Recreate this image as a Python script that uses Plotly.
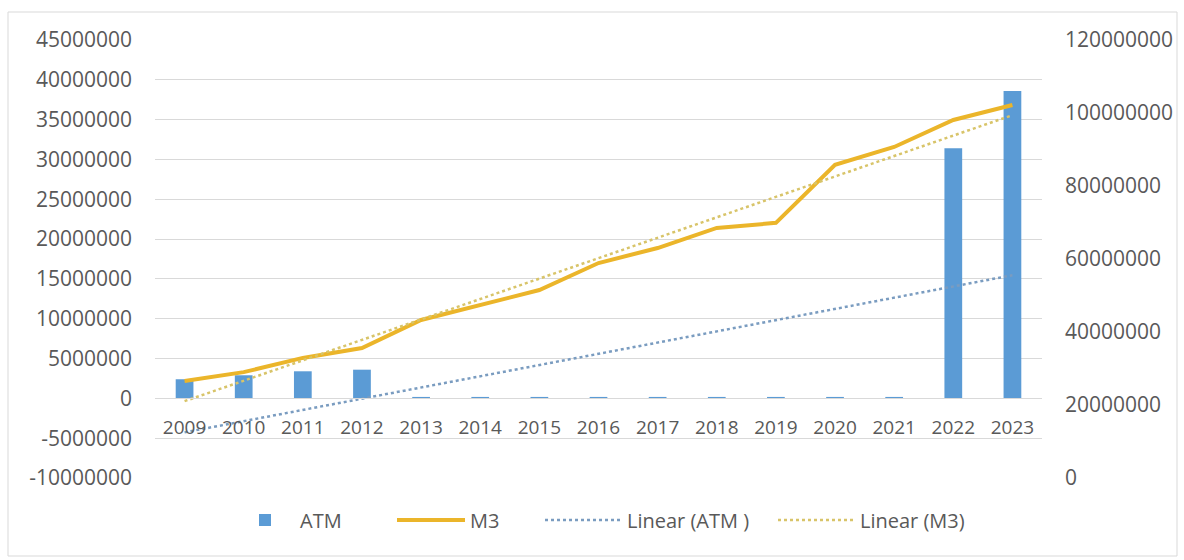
import numpy as np
import plotly.graph_objects as go

# Yearly series
years = ["2009", "2010", "2011", "2012", "2013", "2014", "2015", "2016",
         "2017", "2018", "2019", "2020", "2021", "2022", "2023"]
atm = [2400000, 2900000, 3400000, 3600000, 180000, 180000, 180000, 180000,
       180000, 180000, 180000, 180000, 180000, 31400000, 38600000]
m3 = [26600000, 29000000, 32900000, 35600000, 43300000, 47400000, 51500000,
      58900000, 63000000, 68500000, 69900000, 85800000, 90700000, 98100000,
      102200000]

# Axis ticks
left_ticks = [-10000000, -5000000, 0, 5000000, 10000000, 15000000, 20000000,
              25000000, 30000000, 35000000, 40000000, 45000000]
right_ticks = [0, 20000000, 40000000, 60000000, 80000000, 100000000, 120000000]

# Least-squares linear trendlines over the year index
idx = np.arange(len(years))
atm_fit = np.polyval(np.polyfit(idx, atm, 1), idx)
m3_fit = np.polyval(np.polyfit(idx, m3, 1), idx)

W, H = 1184, 560
L, R, T, B = 155, 142, 40, 82
TEXT = "#595959"
GRID = "#D9D9D9"
FONT = "Open Sans"

fig = go.Figure()
fig.add_trace(go.Bar(x=years, y=atm, name="ATM", marker_color="#5B9BD5",
                     marker_line_width=0, yaxis="y", legend="legend"))
fig.add_trace(go.Scatter(x=years, y=m3, name="M3", mode="lines",
                         line=dict(color="#EBB52A", width=4), yaxis="y2",
                         legend="legend2"))
fig.add_trace(go.Scatter(x=years, y=atm_fit, name="Linear (ATM )", mode="lines",
                         line=dict(color="#7A9CC0", width=2.5, dash="dot"),
                         yaxis="y", legend="legend3"))
fig.add_trace(go.Scatter(x=years, y=m3_fit, name="Linear (M3)", mode="lines",
                         line=dict(color="#D8C469", width=2.5, dash="dot"),
                         yaxis="y2", legend="legend4"))

ymin, ymax = left_ticks[0], left_ticks[-1]
plot_w, plot_h = W - L - R, H - T - B


def px_x(p):
    return (p - L) / plot_w


def px_y(p):
    return (H - B - p) / plot_h


def legend_box(left_px, item_w):
    # one legend entry placed along the bottom row
    return dict(orientation="h", x=px_x(left_px), xanchor="left",
                y=px_y(520), yanchor="middle",
                font=dict(size=20, color=TEXT, family=FONT),
                itemwidth=item_w, bgcolor="rgba(0,0,0,0)", borderwidth=0)


fig.update_layout(
    width=W, height=H,
    margin=dict(l=L, r=R, t=T, b=B),
    paper_bgcolor="white", plot_bgcolor="white",
    font=dict(family=FONT, color=TEXT, size=19),
    bargap=0.7,
    showlegend=True,
    legend=legend_box(230, 60),
    legend2=legend_box(392, 68),
    legend3=legend_box(540, 77),
    legend4=legend_box(773, 77),
    xaxis=dict(type="category", anchor="free",
               position=(0 - ymin) / (ymax - ymin),
               showline=True, linecolor=GRID, linewidth=1,
               showgrid=False, ticks="", ticklabelstandoff=12,
               tickfont=dict(size=19, color=TEXT)),
    yaxis=dict(range=[ymin, ymax], tickvals=left_ticks,
               ticktext=[str(v) for v in left_ticks],
               showgrid=True, gridcolor=GRID, gridwidth=1,
               zeroline=False, showline=False, ticks="",
               ticklabelstandoff=22, tickfont=dict(size=21, color=TEXT)),
    yaxis2=dict(range=[right_ticks[0], right_ticks[-1]], overlaying="y",
                side="right", tickvals=right_ticks,
                ticktext=[str(v) for v in right_ticks],
                showgrid=False, zeroline=False, showline=False, ticks="",
                ticklabelstandoff=22, tickfont=dict(size=21, color=TEXT)),
    shapes=[dict(type="rect", xref="paper", yref="paper",
                 x0=px_x(8), x1=px_x(1177), y0=px_y(556), y1=px_y(12),
                 line=dict(color=GRID, width=1), layer="below")],
)

fig.write_html("out.html")
